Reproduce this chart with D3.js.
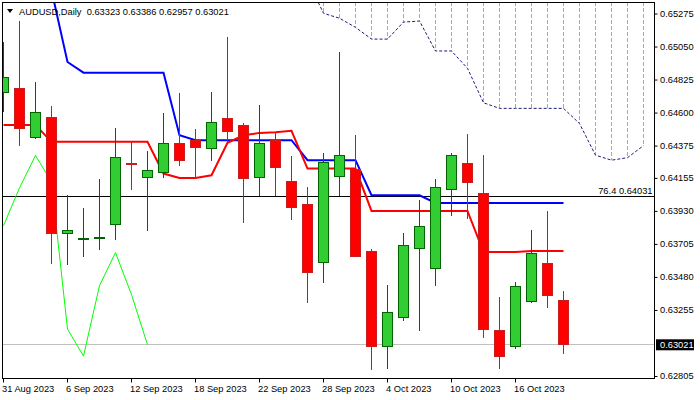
<!DOCTYPE html>
<html><head><meta charset="utf-8">
<script src="https://cdn.jsdelivr.net/npm/d3@7"></script>
<style>
html,body{margin:0;padding:0;background:#fff;}
svg{display:block;}
text{font-family:"Liberation Sans",Arial,sans-serif;font-size:9.3px;}
</style>
</head><body>
<svg id="c" width="700" height="400"></svg>
<script>
// ---- data ----
const dates = ["31 Aug 2023","1 Sep 2023","4 Sep 2023","5 Sep 2023","6 Sep 2023","7 Sep 2023","8 Sep 2023","11 Sep 2023","12 Sep 2023","13 Sep 2023","14 Sep 2023","15 Sep 2023","18 Sep 2023","19 Sep 2023","20 Sep 2023","21 Sep 2023","22 Sep 2023","25 Sep 2023","26 Sep 2023","27 Sep 2023","28 Sep 2023","29 Sep 2023","2 Oct 2023","3 Oct 2023","4 Oct 2023","5 Oct 2023","6 Oct 2023","9 Oct 2023","10 Oct 2023","11 Oct 2023","12 Oct 2023","13 Oct 2023","16 Oct 2023","17 Oct 2023","18 Oct 2023","19 Oct 2023"];
const open  = [0.64741,0.64768,0.64434,0.64570,0.63783,0.63745,0.63752,0.63847,0.64263,0.64168,0.64195,0.64393,0.64415,0.64359,0.64565,0.64516,0.64161,0.64415,0.64136,0.63983,0.63581,0.64168,0.64222,0.63658,0.63012,0.63210,0.63683,0.63547,0.64079,0.64258,0.64052,0.63124,0.63012,0.63322,0.63581,0.63323];
const high  = [0.65084,0.65229,0.64811,0.64647,0.64045,0.63951,0.64149,0.64495,0.64400,0.64340,0.64600,0.64736,0.64490,0.64743,0.65118,0.64531,0.64654,0.64465,0.64306,0.64095,0.64327,0.65016,0.64449,0.63672,0.63426,0.63781,0.64006,0.64154,0.64331,0.64456,0.64313,0.63344,0.63446,0.63801,0.63931,0.63386];
const low   = [0.64606,0.64376,0.64424,0.63571,0.63565,0.63619,0.63667,0.63735,0.64076,0.63797,0.64158,0.64240,0.64158,0.64274,0.64393,0.63851,0.64033,0.64033,0.63872,0.63305,0.63442,0.64033,0.63619,0.62846,0.62858,0.63182,0.63114,0.63421,0.63899,0.63881,0.63066,0.62858,0.62994,0.63308,0.63271,0.62957];
const close = [0.64843,0.64495,0.64604,0.63779,0.63806,0.63750,0.63757,0.64304,0.64258,0.64215,0.64393,0.64277,0.64370,0.64538,0.64475,0.64154,0.64393,0.64233,0.63960,0.63517,0.64265,0.64311,0.63626,0.63012,0.63247,0.63699,0.63833,0.64099,0.64311,0.64131,0.63128,0.62944,0.63424,0.63649,0.63363,0.63021];

const tenkan = [0.64518,0.64518,0.64518,0.64404,0.64404,0.64404,0.64404,0.64404,0.64404,0.64404,0.64188,0.64158,0.64158,0.64176,0.64397,0.64449,0.64465,0.64470,0.64479,0.64222,0.64222,0.64222,0.64222,0.63933,0.63933,0.63933,0.63933,0.63933,0.63933,0.63933,0.63653,0.63653,0.63653,0.63660,0.63660,0.63660];
const kijun  = [0.65440,0.65440,0.65440,0.65437,0.64948,0.64875,0.64875,0.64875,0.64875,0.64875,0.64875,0.64449,0.64415,0.64415,0.64415,0.64415,0.64415,0.64415,0.64415,0.64279,0.64279,0.64279,0.64279,0.64040,0.64040,0.64040,0.64040,0.63988,0.63988,0.63988,0.63988,0.63988,0.63988,0.63988,0.63988,0.63988];
const chikou = [0.63833,0.64090,0.64311,0.64131,0.63128,0.62944,0.63424,0.63649,0.63363,0.63021];
// cloud (senkou spans), by bar index 0..40, null where not drawn
const spanA = [null,null,null,null,null,null,null,null,null,null,null,null,null,null,null,null,null,null,null,
  0.65507,0.65280,0.65246,0.65184,0.65104,0.65104,0.65220,0.65227,0.65023,0.65023,0.64905,0.64670,0.64632,0.64632,0.64632,0.64632,0.64632,0.64529,0.64313,0.64279,0.64296,0.64378];
const spanB = [null,null,null,null,null,null,null,null,null,null,null,null,null,null,null,null,null,null,null,
  0.6560,0.6560,0.6560,0.6560,0.6560,0.6560,0.6560,0.6560,0.6560,0.6560,0.6560,0.6560,0.6560,0.6560,0.6560,0.6560,0.6560,0.6560,0.6560,0.6560,0.6560,0.6560];

const priceTicks = ["0.65275","0.65050","0.64825","0.64600","0.64375","0.64155","0.63930","0.63705","0.63480","0.63255","0.62805"];
const dateTickIdx = [0,4,8,12,16,20,24,28,32];
const headerText = "AUDUSD,Daily  0.63323 0.63386 0.62957 0.63021";
const fibLevel = 0.64031, fibLabel = "76.4 0.64031";
const bidPrice = 0.63021, bidLabel = "0.63021";

// ---- scales ----
const svg = d3.select("#c");
const x = d3.scaleLinear().domain([0, 40]).range([3.5, 643.5]);
const y = d3.scaleLinear().domain([0.62805, 0.65275]).range([376.5, 14]);
const L = 2.5, R = 654.5, T = 2.5, B = 378.5;

svg.append("defs").append("clipPath").attr("id","plot")
  .append("rect").attr("x",3).attr("y",3).attr("width",R-3).attr("height",B-3);

const g = svg.append("g").attr("clip-path","url(#plot)");

// fib line & bid line
g.append("line").attr("x1",L).attr("x2",R).attr("y1",y(fibLevel)).attr("y2",y(fibLevel))
  .attr("stroke","#000").attr("stroke-width",1).attr("shape-rendering","crispEdges");
g.append("line").attr("x1",L).attr("x2",R).attr("y1",y(bidPrice)).attr("y2",y(bidPrice))
  .attr("stroke","#c0c0c0").attr("stroke-width",1).attr("shape-rendering","crispEdges");

// cloud hatching
const cloudIdx = d3.range(spanA.length).filter(i => spanA[i] != null);
g.selectAll(".hatch").data(cloudIdx).join("line")
  .attr("x1", i => x(i)).attr("x2", i => x(i))
  .attr("y1", i => y(spanB[i])).attr("y2", i => y(spanA[i]))
  .attr("stroke","#f39c25").attr("stroke-width",1).attr("stroke-dasharray","4,2")
  .attr("shape-rendering","crispEdges");
g.append("path").datum(d3.range(spanA.length))
  .attr("d", d3.line().defined(i => spanA[i] != null).x(i => x(i)).y(i => y(spanA[i])))
  .attr("fill","none").attr("stroke","#1c1c78").attr("stroke-width",1).attr("stroke-dasharray","3,2");

// chikou
g.append("path").datum(chikou)
  .attr("d", d3.line().x((d,i) => x(i)).y(d => y(d)))
  .attr("fill","none").attr("stroke","#00ff00").attr("stroke-width",1);
// kijun
g.append("path").datum(kijun)
  .attr("d", d3.line().x((d,i) => x(i)).y(d => y(d)))
  .attr("fill","none").attr("stroke","#0000ff").attr("stroke-width",2);
// tenkan
g.append("path").datum(tenkan)
  .attr("d", d3.line().x((d,i) => x(i)).y(d => y(d)))
  .attr("fill","none").attr("stroke","#ff0000").attr("stroke-width",2);

// candles
const idx = d3.range(dates.length);
const up = i => close[i] >= open[i];
g.selectAll(".wick").data(idx).join("line")
  .attr("x1", i => x(i)).attr("x2", i => x(i))
  .attr("y1", i => y(high[i])).attr("y2", i => y(low[i]))
  .attr("stroke", i => up(i) ? "#006400" : "#b22222").attr("stroke-width",1)
  .attr("shape-rendering","crispEdges");
g.selectAll(".body").data(idx).join("rect")
  .attr("x", i => x(i) - 5)
  .attr("width", 10)
  .attr("y", i => Math.round(y(Math.max(open[i], close[i]))) + 0.5)
  .attr("height", i => Math.max(1, Math.round(Math.abs(y(open[i]) - y(close[i])))))
  .attr("fill", i => up(i) ? "#32cd32" : "#ff0000")
  .attr("stroke", i => up(i) ? "#006400" : "#c81e1e").attr("stroke-width",1)
  .attr("shape-rendering","crispEdges");

// fib label
svg.append("text").attr("x",652.5).attr("y",194).attr("text-anchor","end").attr("fill","#000").text(fibLabel);

// border
svg.append("rect").attr("x",L).attr("y",T).attr("width",R-L).attr("height",B-T)
  .attr("fill","none").attr("stroke","#000").attr("stroke-width",1).attr("shape-rendering","crispEdges");

// right axis
const ya = svg.append("g").attr("transform",`translate(${R},0)`)
  .call(d3.axisRight(y).tickValues(priceTicks.map(Number)).tickFormat((d,i) => priceTicks[i])
    .tickSize(3).tickPadding(2.5).offset(0));
ya.select(".domain").remove();
ya.selectAll("text").attr("fill","#000").style("font-family","'Liberation Sans',Arial,sans-serif").style("font-size","9.3px");
ya.selectAll("line").attr("stroke","#000");

// bid label box
const by = y(bidPrice);
svg.append("rect").attr("x",656).attr("y",by-5.5).attr("width",38).attr("height",11).attr("fill","#000");
svg.append("text").attr("x",660).attr("y",by).attr("dy","0.35em").attr("fill","#fff").text(bidLabel);

// bottom axis
const xa = svg.append("g").attr("transform",`translate(0,${B})`)
  .call(d3.axisBottom(x).tickValues(dateTickIdx).tickFormat(i => dates[i])
    .tickSize(4).tickPadding(3).offset(0));
xa.select(".domain").remove();
xa.selectAll("line").attr("stroke","#000");
xa.selectAll("text").attr("text-anchor","start").attr("dx",-1.5).attr("fill","#000")
  .style("font-family","'Liberation Sans',Arial,sans-serif").style("font-size","9.3px");

// header
svg.append("path").attr("d","M7,9 L13,9 L10,13 Z").attr("fill","#000");
svg.append("text").attr("x",19).attr("y",14.5).attr("fill","#000").attr("xml:space","preserve")
  .style("white-space","pre").text(headerText);
</script>
</body></html>
